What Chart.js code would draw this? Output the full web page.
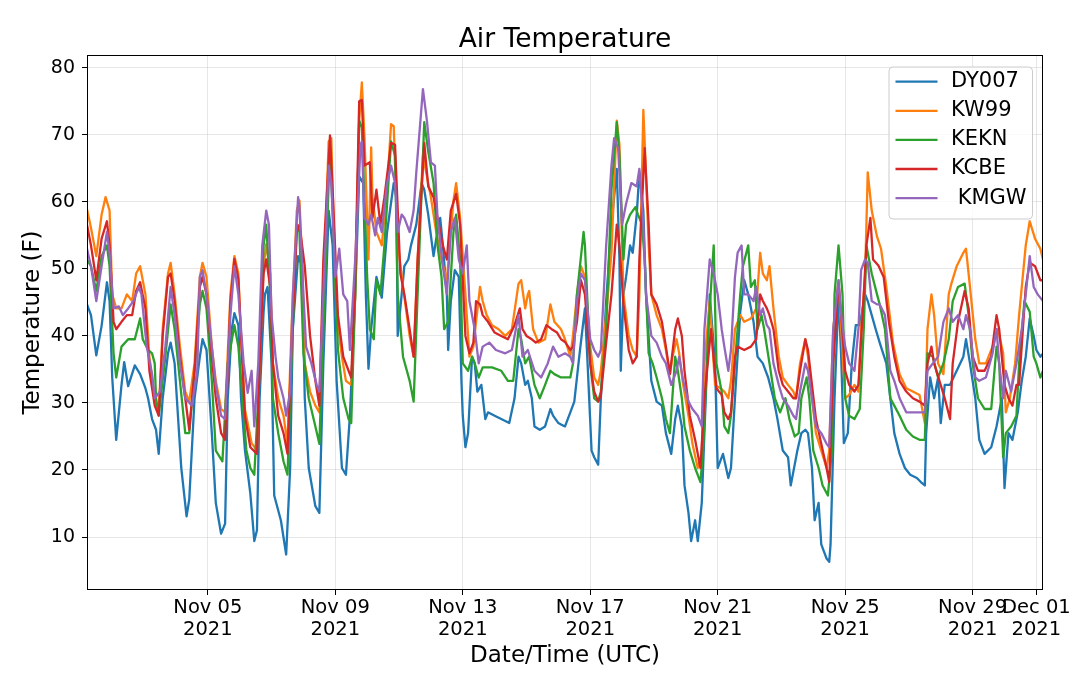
<!DOCTYPE html>
<html>
<head>
<meta charset="utf-8">
<script src="https://cdn.jsdelivr.net/npm/chart.js@4.4.0/dist/chart.umd.min.js"></script>
<style>
html,body{margin:0;padding:0;background:#fff;}
canvas{display:block;}
</style>
</head>
<body>
<canvas id="c" width="1080" height="685"></canvas>
<script>
// Hours since 2021-11-01 00:00 UTC, temperature (F)
const DY007 = [[5,44.7],[8,43.1],[12,37.1],[16,41.5],[20,48.0],[22,45.2],[24,33.8],[27,24.5],[31,32.7],[33,36.1],[36,32.5],[41,35.6],[45,34.3],[49,32.2],[51,30.7],[54,27.6],[57,26.0],[59,22.4],[62,30.7],[66,37.4],[68,39.0],[71,35.9],[74,26.5],[76,20.3],[80,13.1],[82,15.6],[86,30.7],[90,36.9],[92,39.5],[95,37.9],[99,25.5],[102,15.1],[106,10.5],[109,12.0],[111,30.7],[114,41.0],[116,43.4],[119,41.6],[121,30.7],[124,22.9],[128,16.5],[131,9.4],[133,11.0],[135,30.7],[138,43.6],[139,46.2],[141,47.3],[144,35.9],[146,16.2],[151,12.5],[155,7.4],[158,20.3],[160,41.0],[164,51.9],[167,50.4],[169,30.7],[172,20.3],[177,14.6],[180,13.6],[183,35.9],[187,58.7],[190,53.5],[193,33.3],[197,20.3],[200,19.3],[203,28.1],[207,46.2],[210,63.8],[213,62.8],[215,46.2],[217,35.1],[219,41.0],[223,48.8],[227,45.7],[231,55.5],[236,62.8],[238,60.7],[239,40.0],[242,46.2],[244,50.4],[247,51.4],[249,53.5],[253,56.6],[257,62.8],[259,61.8],[262,58.1],[266,51.9],[268,54.5],[271,57.6],[273,53.5],[276,46.2],[277,37.9],[279,45.2],[282,49.8],[285,48.8],[287,33.3],[288,28.1],[290,23.4],[292,25.5],[295,36.9],[297,35.9],[299,31.7],[302,32.7],[305,27.6],[307,28.6],[312,28.1],[317,27.6],[323,27.0],[327,30.7],[330,36.9],[332,35.9],[335,32.7],[337,33.3],[340,30.7],[342,26.5],[346,26.0],[350,26.5],[354,29.1],[356,28.1],[360,27.0],[362,26.8],[365,26.5],[369,28.6],[372,30.2],[376,37.4],[380,44.1],[382,35.9],[385,22.9],[387,21.9],[390,20.8],[392,30.7],[396,45.2],[400,56.6],[404,64.9],[406,51.4],[407,34.8],[409,46.2],[411,48.8],[414,53.5],[416,52.4],[419,58.1],[421,64.4],[424,58.7],[426,46.2],[430,33.3],[434,30.2],[438,29.6],[441,25.5],[445,22.4],[448,27.6],[450,29.6],[453,26.5],[455,17.7],[458,13.6],[460,9.4],[463,12.5],[465,9.4],[468,15.1],[470,25.5],[474,46.2],[478,35.9],[480,20.3],[484,22.4],[488,18.8],[490,20.3],[493,30.7],[497,43.6],[500,48.3],[503,46.2],[507,42.1],[510,36.9],[514,35.9],[518,33.8],[522,30.7],[525,27.6],[529,22.9],[533,21.9],[535,17.7],[538,20.8],[540,22.9],[543,25.5],[546,26.0],[548,25.5],[551,20.3],[553,12.5],[556,15.1],[558,8.9],[562,6.8],[564,6.3],[565,8.9],[568,30.7],[571,46.2],[573,36.9],[575,24.0],[578,25.5],[581,35.9],[584,41.6],[587,41.6],[591,46.2],[593,45.2],[596,43.1],[599,41.0],[602,39.0],[607,35.9],[613,25.5],[617,22.4],[621,20.3],[625,19.3],[630,18.8],[633,18.2],[636,17.7],[637,25.5],[640,33.8],[643,30.7],[646,33.8],[648,27.0],[651,32.7],[655,32.7],[660,34.8],[665,36.9],[667,39.5],[670,35.9],[674,30.7],[677,24.5],[681,22.4],[686,23.4],[690,26.5],[694,30.7],[696,17.3],[699,25.5],[702,24.5],[706,28.6],[709,33.3],[712,36.9],[715,42.6],[718,40.0],[720,37.9],[723,36.9],[725,37.4]];

const KW99 = [[5,58.9],[8,56.1],[12,51.9],[16,58.1],[19,60.7],[22,58.7],[24,46.2],[27,44.1],[31,44.1],[35,46.2],[39,45.2],[42,49.3],[45,50.4],[49,46.2],[52,36.9],[56,30.7],[59,28.6],[62,41.0],[66,49.3],[68,50.9],[71,46.2],[75,38.4],[79,31.7],[82,30.2],[86,35.9],[90,48.8],[92,50.9],[95,48.8],[99,38.4],[102,33.3],[106,29.1],[109,28.6],[113,46.2],[116,51.9],[119,49.3],[121,40.0],[124,29.0],[129,24.0],[133,22.9],[135,35.9],[138,50.4],[140,53.7],[143,49.3],[145,35.9],[149,30.7],[153,28.1],[156,23.9],[159,41.0],[163,58.7],[165,60.2],[167,51.4],[169,35.9],[173,31.7],[177,29.6],[180,28.6],[183,46.2],[187,69.0],[189,69.5],[190,61.8],[193,43.1],[197,36.9],[200,33.3],[204,32.7],[207,46.2],[210,72.1],[212,77.8],[214,69.5],[217,51.4],[219,68.1],[220,60.7],[223,55.5],[227,53.5],[231,61.8],[234,71.6],[236,71.3],[239,54.0],[243,47.3],[248,40.0],[251,36.9],[254,51.4],[258,66.9],[261,63.8],[264,60.7],[268,55.5],[272,51.4],[276,48.3],[281,60.2],[283,62.8],[286,57.6],[290,46.2],[293,36.9],[296,38.4],[298,42.1],[301,47.3],[303,45.2],[306,43.1],[310,41.6],[315,41.0],[320,40.0],[325,41.0],[330,47.8],[332,48.3],[335,44.1],[337,46.2],[338,46.7],[341,41.0],[345,39.0],[350,39.5],[354,44.7],[357,42.1],[362,41.0],[365,39.5],[369,36.9],[371,40.0],[374,46.2],[377,50.4],[380,48.8],[384,38.4],[387,33.8],[390,32.7],[392,34.8],[396,43.1],[400,52.4],[404,72.1],[406,68.5],[409,46.2],[413,40.0],[416,37.9],[419,36.9],[421,46.2],[424,73.7],[425,69.0],[428,53.5],[430,46.2],[434,43.1],[438,41.0],[441,37.9],[444,34.3],[446,36.9],[449,39.5],[451,37.4],[454,32.7],[458,28.1],[461,23.9],[465,20.3],[468,22.4],[470,35.9],[474,45.2],[478,32.7],[482,32.2],[485,31.7],[488,30.7],[490,33.3],[493,41.0],[497,43.1],[500,42.1],[505,42.6],[509,44.1],[512,52.4],[514,49.3],[517,48.3],[519,50.4],[522,44.1],[526,36.9],[529,33.8],[533,32.7],[537,31.7],[539,30.7],[542,35.9],[546,39.5],[548,36.9],[551,30.7],[554,25.5],[558,22.9],[562,20.3],[564,22.9],[567,41.0],[571,48.3],[573,41.0],[576,30.7],[579,31.2],[583,32.7],[586,31.7],[588,41.0],[591,48.8],[593,64.4],[596,58.7],[600,54.8],[603,53.0],[607,47.3],[612,39.0],[617,34.3],[622,32.2],[627,31.7],[632,31.2],[636,27.0],[638,41.0],[641,46.2],[643,43.1],[646,35.9],[650,34.3],[654,46.2],[656,47.8],[660,50.4],[665,52.4],[667,53.0],[670,47.3],[674,39.5],[677,35.9],[682,35.9],[687,38.4],[691,41.0],[695,37.4],[697,28.6],[700,30.7],[704,35.9],[707,43.1],[712,53.5],[715,57.1],[719,54.5],[723,53.0],[725,51.4]];

const KEKN = [[5,51.4],[8,50.4],[12,46.7],[16,51.9],[20,53.5],[22,50.4],[25,37.4],[27,33.8],[31,38.4],[36,39.5],[41,39.5],[45,42.6],[47,39.5],[51,37.9],[54,37.4],[56,35.9],[57,30.7],[59,28.1],[64,36.9],[68,44.7],[71,41.0],[75,33.3],[79,25.5],[82,25.5],[86,34.8],[90,44.7],[92,46.7],[95,44.1],[99,33.3],[102,22.9],[107,21.3],[111,35.9],[116,41.6],[119,38.4],[122,31.0],[125,23.0],[128,20.3],[131,19.3],[134,30.7],[138,53.5],[140,56.6],[143,46.2],[145,30.7],[149,25.5],[153,21.3],[156,19.3],[159,35.9],[163,56.6],[165,55.5],[168,37.4],[172,30.7],[177,26.5],[180,23.9],[183,41.0],[188,68.0],[190,58.7],[194,37.9],[198,30.7],[202,27.6],[204,27.0],[207,46.2],[210,72.1],[212,71.1],[216,48.8],[218,41.0],[221,39.5],[223,48.3],[226,46.2],[229,53.5],[234,69.0],[237,66.9],[239,46.2],[243,36.9],[248,33.3],[251,30.2],[254,46.2],[259,71.9],[262,67.5],[266,62.8],[269,53.5],[272,48.8],[274,41.0],[277,42.1],[281,55.5],[283,58.1],[286,51.4],[288,35.9],[292,34.8],[295,36.9],[297,35.9],[300,33.8],[303,35.3],[310,35.3],[317,34.8],[322,33.3],[326,33.3],[330,41.0],[332,39.5],[335,35.9],[338,36.9],[342,32.7],[346,30.7],[350,32.7],[354,34.8],[357,34.3],[362,33.8],[365,33.8],[369,33.8],[371,35.9],[374,46.2],[379,55.5],[380,53.5],[384,35.9],[387,30.7],[390,30.2],[392,31.7],[396,41.0],[400,61.8],[404,71.9],[406,67.0],[409,51.4],[411,56.6],[414,58.1],[418,59.2],[420,58.1],[423,56.6],[425,51.4],[428,37.4],[431,35.9],[434,33.8],[438,30.7],[441,27.6],[444,25.5],[448,36.9],[450,34.8],[453,30.7],[455,26.5],[459,22.9],[463,20.3],[467,18.2],[469,22.9],[473,41.0],[477,53.5],[479,35.9],[483,31.7],[485,26.5],[488,25.5],[490,28.1],[493,35.9],[497,46.2],[499,50.4],[503,53.5],[505,47.3],[508,48.3],[510,41.0],[513,43.1],[515,41.0],[519,35.9],[523,30.7],[527,28.6],[531,30.7],[534,27.6],[538,25.0],[541,25.5],[543,30.7],[547,33.8],[549,30.7],[552,22.9],[556,20.3],[559,17.7],[563,16.2],[566,22.9],[568,46.2],[571,53.5],[574,46.2],[576,30.7],[579,28.1],[583,27.6],[587,29.1],[590,41.0],[592,53.5],[596,49.3],[600,46.2],[602,44.7],[606,41.0],[610,30.7],[613,29.6],[617,28.1],[622,26.0],[627,25.0],[632,24.5],[636,24.5],[638,37.4],[642,36.9],[646,33.8],[650,35.9],[654,39.5],[657,45.2],[661,47.3],[666,47.8],[669,43.1],[672,35.9],[676,30.7],[681,29.1],[686,29.1],[690,38.4],[692,35.9],[695,21.9],[697,25.5],[701,26.5],[705,28.1],[707,35.9],[711,45.2],[715,43.6],[718,36.9],[720,35.9],[723,33.8],[725,34.8]];

const KCBE = [[5,56.6],[8,53.5],[12,48.3],[16,54.5],[20,57.1],[22,53.5],[25,42.1],[27,41.0],[31,42.1],[35,43.1],[39,43.1],[42,46.7],[45,48.0],[49,44.1],[52,34.8],[56,29.6],[59,28.1],[62,40.0],[66,48.8],[68,49.3],[71,45.2],[75,36.9],[79,30.7],[82,26.0],[86,34.8],[90,47.3],[92,48.8],[95,46.2],[99,36.9],[102,30.7],[106,25.5],[109,24.5],[113,45.0],[116,51.5],[119,48.5],[121,40.0],[124,28.0],[128,23.4],[133,22.4],[135,35.9],[138,49.3],[140,51.4],[143,47.3],[145,35.9],[149,28.1],[153,25.5],[156,22.4],[159,38.4],[163,55.5],[165,56.6],[169,50.4],[173,40.0],[177,33.3],[180,29.6],[183,51.4],[188,69.9],[190,61.8],[194,43.1],[198,36.9],[202,34.8],[204,33.8],[207,48.8],[210,75.0],[212,75.2],[214,65.4],[218,65.9],[220,57.6],[223,61.8],[226,56.6],[229,60.7],[234,68.8],[237,68.5],[241,49.3],[244,46.2],[248,41.0],[251,36.9],[254,51.4],[259,68.8],[262,62.3],[266,60.7],[269,57.6],[273,53.5],[276,51.4],[279,58.7],[283,61.2],[286,56.6],[290,40.0],[293,37.4],[296,39.0],[298,45.2],[301,44.7],[303,43.1],[307,42.1],[312,40.5],[317,40.0],[322,39.5],[327,41.6],[331,44.1],[333,41.0],[336,40.0],[340,39.5],[343,39.0],[347,39.5],[351,41.6],[355,41.0],[359,40.5],[362,39.5],[365,39.1],[369,37.9],[371,38.4],[374,42.1],[377,48.3],[380,46.2],[384,35.9],[387,31.7],[390,30.2],[392,31.2],[396,39.0],[400,46.2],[404,56.6],[406,53.5],[409,44.7],[413,37.9],[416,35.9],[419,36.9],[421,51.4],[425,68.0],[428,56.6],[430,46.2],[434,44.7],[438,42.1],[441,38.4],[444,34.3],[448,41.0],[450,42.6],[453,40.0],[455,34.8],[459,28.1],[463,24.5],[467,20.3],[470,30.7],[475,41.0],[479,32.2],[483,31.2],[485,28.6],[488,27.6],[490,28.6],[493,36.9],[495,38.4],[500,37.9],[505,38.4],[509,39.5],[512,46.2],[514,45.2],[517,44.1],[519,43.1],[522,41.0],[526,34.8],[529,32.7],[533,31.7],[537,30.7],[539,30.7],[542,34.8],[546,39.5],[548,37.9],[551,32.7],[554,27.6],[558,23.9],[562,20.3],[564,18.2],[567,35.9],[571,47.8],[573,43.1],[576,34.8],[579,32.7],[583,31.7],[586,32.7],[590,46.2],[592,53.5],[595,57.6],[597,51.4],[601,50.5],[605,48.8],[609,42.0],[613,36.9],[617,33.3],[622,31.7],[627,30.7],[632,30.2],[636,29.6],[638,35.9],[641,38.4],[643,35.9],[647,33.3],[651,30.7],[655,27.6],[657,35.9],[661,42.1],[666,46.7],[669,44.1],[672,36.9],[676,34.8],[681,34.8],[686,36.9],[690,43.1],[692,41.0],[696,32.7],[699,30.7],[702,29.6],[705,32.7],[707,32.7],[712,47.3],[715,50.9],[719,50.4],[723,48.3],[725,48.3]];

const KMGW = [[5,53.0],[8,50.4],[12,45.2],[16,50.4],[20,55.5],[22,52.4],[25,44.1],[29,44.4],[32,43.1],[36,44.1],[40,45.2],[44,47.3],[46,46.2],[50,38.4],[54,34.3],[56,30.7],[60,31.7],[64,38.4],[68,47.3],[71,43.1],[75,35.9],[79,30.7],[84,29.6],[88,34.8],[90,48.8],[92,49.8],[95,46.2],[99,38.4],[102,32.7],[106,28.1],[109,27.6],[113,43.1],[116,50.4],[119,46.2],[123,35.9],[126,31.5],[129,34.8],[131,26.5],[134,35.9],[137,53.5],[140,58.7],[142,56.6],[144,43.1],[147,36.9],[149,33.8],[153,30.7],[155,28.1],[158,31.7],[160,46.2],[164,60.7],[165,59.2],[168,46.2],[170,38.4],[174,35.9],[178,32.7],[180,31.7],[183,46.2],[187,65.4],[189,62.8],[192,48.8],[195,53.0],[198,46.2],[201,45.2],[203,37.9],[207,51.4],[211,68.5],[212,69.0],[214,57.6],[217,56.6],[219,58.1],[222,55.0],[224,57.6],[227,55.5],[231,62.8],[234,65.4],[237,62.8],[239,55.5],[242,58.1],[244,57.6],[248,55.5],[251,58.7],[253,64.4],[258,76.8],[261,72.1],[264,65.9],[267,65.4],[269,57.6],[273,50.4],[276,46.2],[279,55.5],[282,57.6],[285,51.4],[288,49.3],[291,53.5],[293,45.2],[297,41.0],[300,35.9],[303,38.4],[308,39.0],[313,37.9],[320,37.4],[325,37.9],[330,43.1],[333,36.9],[337,37.9],[342,34.8],[347,33.8],[352,35.9],[356,38.4],[360,36.9],[365,37.4],[369,36.9],[371,35.9],[374,45.2],[377,49.3],[380,48.3],[384,39.5],[387,37.9],[390,36.9],[392,37.9],[396,53.5],[400,65.4],[402,69.5],[405,68.0],[408,56.6],[411,59.7],[415,62.8],[419,62.3],[421,64.9],[424,56.6],[426,46.2],[430,40.0],[434,39.0],[438,36.9],[441,35.9],[445,32.7],[449,34.8],[451,36.9],[454,33.3],[458,30.2],[461,29.1],[465,28.1],[468,26.5],[470,41.0],[474,51.4],[477,49.3],[480,46.2],[483,41.0],[485,38.4],[488,34.8],[490,37.9],[493,48.8],[495,52.4],[498,53.5],[500,46.2],[503,46.2],[507,45.2],[509,47.3],[512,43.1],[514,44.1],[517,41.6],[519,41.0],[522,35.9],[526,32.7],[529,30.7],[533,29.6],[537,28.1],[539,27.6],[542,31.7],[546,35.9],[548,34.8],[551,30.7],[554,26.5],[558,25.5],[562,23.9],[564,23.4],[567,41.0],[571,48.3],[573,43.1],[576,38.4],[579,35.9],[583,34.8],[586,41.0],[588,49.8],[591,51.4],[593,50.9],[596,45.2],[600,44.7],[602,44.7],[606,43.1],[610,34.8],[613,33.3],[617,30.7],[622,28.6],[627,28.6],[632,28.6],[636,28.6],[638,34.8],[642,35.9],[646,36.9],[650,42.1],[654,44.1],[657,42.1],[661,43.1],[665,41.0],[667,43.1],[670,41.0],[674,33.8],[677,33.3],[682,33.8],[687,37.4],[690,41.0],[692,35.9],[695,30.7],[697,34.8],[701,31.7],[705,35.9],[709,41.0],[712,46.2],[715,51.9],[718,47.3],[721,46.2],[725,45.2]];

const stationNames = ["DY007", "KW99", "KEKN", "KCBE", " KMGW"];
const stationData = [DY007, KW99, KEKN, KCBE, KMGW];
const stationColors = ["#1f77b4", "#ff7f0e", "#2ca02c", "#d62728", "#9467bd"];

const tickHours = [96, 192, 288, 384, 480, 576, 672, 720];
const tickDates = ["Nov 05", "Nov 09", "Nov 13", "Nov 17", "Nov 21", "Nov 25", "Nov 29", "Dec 01"];
const tickYear = "2021";
const yTicks = [10, 20, 30, 40, 50, 60, 70, 80];

const FONT = "'DejaVu Sans', 'Liberation Sans', sans-serif";
Chart.defaults.font.family = FONT;
Chart.defaults.color = '#000';

const datasets = stationData.map((rows, i) => ({
  label: stationNames[i],
  data: rows.map(r => ({x: r[0], y: r[1]})),
  borderColor: stationColors[i],
  backgroundColor: stationColors[i],
  borderWidth: 2.3,
  pointRadius: 0,
  tension: 0,
  fill: false,
  borderJoinStyle: 'round',
  order: stationData.length - i
}));

const framePlugin = {
  id: 'frame',
  afterDatasetsDraw(chart) {
    const {ctx, chartArea: a} = chart;
    ctx.save();
    ctx.strokeStyle = '#000';
    ctx.lineWidth = 1;
    ctx.strokeRect(a.left + 0.5, a.top + 0.5, a.right - a.left - 1, a.bottom - a.top - 1);
    ctx.restore();
  }
};

const titlePlugin = {
  id: 'mplTitle',
  afterDraw(chart) {
    const {ctx, chartArea: a} = chart;
    ctx.save();
    ctx.fillStyle = '#000';
    ctx.font = "26.5px " + FONT;
    ctx.textAlign = 'center';
    ctx.textBaseline = 'alphabetic';
    ctx.fillText('Air Temperature', (a.left + a.right) / 2, a.top - 8);
    ctx.restore();
  }
};

const legendPlugin = {
  id: 'mplLegend',
  afterDraw(chart) {
    const {ctx, chartArea: a} = chart;
    const w = 143.5, h = 152;
    const x0 = a.right - 11 - w, y0 = a.top + 11.5;
    ctx.save();
    ctx.beginPath();
    if (ctx.roundRect) ctx.roundRect(x0 + 0.5, y0 + 0.5, w, h, 4); else ctx.rect(x0 + 0.5, y0 + 0.5, w, h);
    ctx.fillStyle = 'rgba(255,255,255,0.8)';
    ctx.fill();
    ctx.strokeStyle = '#cccccc';
    ctx.lineWidth = 1;
    ctx.stroke();
    ctx.font = "21px " + FONT;
    ctx.textBaseline = 'middle';
    ctx.textAlign = 'left';
    chart.data.datasets.forEach((ds, i) => {
      const y = y0 + 15.2 + i * 29.1;
      ctx.strokeStyle = ds.borderColor;
      ctx.lineWidth = 2.3;
      ctx.beginPath();
      ctx.moveTo(x0 + 7, y);
      ctx.lineTo(x0 + 49, y);
      ctx.stroke();
      ctx.fillStyle = '#000';
      ctx.fillText(ds.label, x0 + 62.5, y);
    });
    ctx.restore();
  }
};

new Chart(document.getElementById('c'), {
  type: 'line',
  data: { datasets },
  options: {
    responsive: false,
    devicePixelRatio: 1,
    animation: false,
    parsing: false,
    normalized: true,
    layout: { padding: { left: 0, right: 37, top: 55, bottom: 0 } },
    plugins: {
      legend: { display: false },
      title: { display: false },
      tooltip: { enabled: false }
    },
    scales: {
      x: {
        type: 'linear',
        min: 5,
        max: 725,
        bounds: 'data',
        afterBuildTicks(scale) { scale.ticks = tickHours.map(v => ({value: v})); },
        afterFit(scale) { scale.height = 95; },
        ticks: {
          autoSkip: false,
          maxRotation: 0,
          minRotation: 0,
          padding: 2,
          color: '#000',
          font: { size: 19.5, lineHeight: 1.113 },
          callback(value) {
            const i = tickHours.indexOf(value);
            return i >= 0 ? [tickDates[i], tickYear] : '';
          }
        },
        grid: {
          color: 'rgba(176,176,176,0.3)',
          lineWidth: 1,
          drawTicks: true,
          tickLength: 5,
          tickColor: '#000',
          tickWidth: 1
        },
        border: { display: false },
        title: {
          display: true,
          text: 'Date/Time (UTC)',
          color: '#000',
          font: { size: 23 },
          padding: { top: 0, bottom: 15 }
        }
      },
      y: {
        type: 'linear',
        min: 2.1,
        max: 81.9,
        bounds: 'data',
        afterBuildTicks(scale) { scale.ticks = yTicks.map(v => ({value: v})); },
        afterFit(scale) { scale.width = 87; },
        ticks: {
          padding: 7,
          color: '#000',
          font: { size: 19 }
        },
        grid: {
          color: 'rgba(176,176,176,0.3)',
          lineWidth: 1,
          drawTicks: true,
          tickLength: 5,
          tickColor: '#000',
          tickWidth: 1
        },
        border: { display: false },
        title: {
          display: true,
          text: 'Temperature (F)',
          color: '#000',
          font: { size: 23 },
          padding: { top: 19, bottom: 0 }
        }
      }
    }
  },
  plugins: [framePlugin, titlePlugin, legendPlugin]
});
</script>
</body>
</html>
